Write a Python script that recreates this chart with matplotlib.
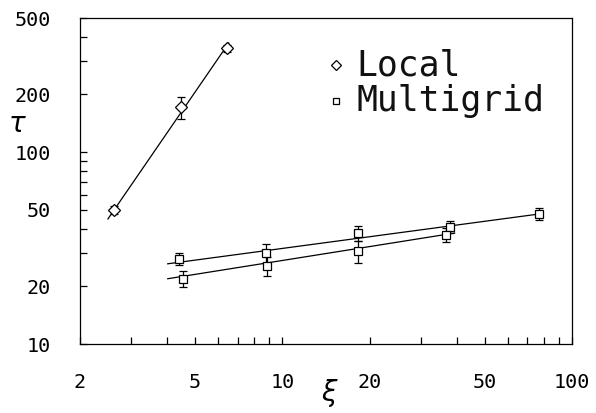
import numpy as np
import matplotlib.pyplot as plt
from matplotlib.ticker import LogLocator, FixedLocator, NullFormatter

# Local update algorithm
xi_local = [2.62, 4.46, 6.43]
tau_local = [50.0, 172.0, 349.0]
err_local = [2.5, 23.0, 15.0]

# Multigrid, upper set
xi_mg1 = [4.40, 8.75, 18.3, 37.8, 76.6]
tau_mg1 = [27.8, 29.9, 37.9, 40.7, 47.6]
err_mg1 = [2.0, 3.5, 3.5, 3.0, 3.5]

# Multigrid, lower set
xi_mg2 = [4.53, 8.83, 18.3, 36.6]
tau_mg2 = [21.9, 25.5, 30.5, 37.1]
err_mg2 = [2.0, 3.0, 4.0, 3.0]

# fitted lines (end points in xi, tau)
fit_local = ([2.50, 6.53], [44.9, 371.0])
fit_mg1 = ([4.02, 76.6], [26.2, 47.6])
fit_mg2 = ([4.02, 39.3], [21.9, 37.9])

xticks = [2, 5, 10, 20, 50, 100]
yticks = [10, 20, 50, 100, 200, 500]

mono = 'DejaVu Sans Mono'

fig = plt.figure(figsize=(5.96, 4.13), dpi=100)
ax = fig.add_axes([0.134, 0.167, 0.826, 0.789])
ax.set_xscale('log')
ax.set_yscale('log')

for xs, ys in (fit_local, fit_mg1, fit_mg2):
    ax.plot(xs, ys, color='black', lw=0.9)

ax.errorbar(xi_local, tau_local, yerr=err_local, fmt='D', ms=6, mfc='white',
            mec='black', mew=0.9, ecolor='black', elinewidth=0.9, capsize=3, zorder=3)
ax.errorbar(xi_mg1, tau_mg1, yerr=err_mg1, fmt='s', ms=6, mfc='white',
            mec='black', mew=0.9, ecolor='black', elinewidth=0.9, capsize=3, zorder=3)
ax.errorbar(xi_mg2, tau_mg2, yerr=err_mg2, fmt='s', ms=6, mfc='white',
            mec='black', mew=0.9, ecolor='black', elinewidth=0.9, capsize=3, zorder=3)

ax.set_xlim(2, 100)
ax.set_ylim(10, 500)

ax.xaxis.set_major_locator(FixedLocator(xticks))
ax.yaxis.set_major_locator(FixedLocator(yticks))
ax.xaxis.set_minor_locator(LogLocator(base=10, subs=np.arange(2, 10)))
ax.yaxis.set_minor_locator(LogLocator(base=10, subs=np.arange(2, 10)))
ax.xaxis.set_minor_formatter(NullFormatter())
ax.yaxis.set_minor_formatter(NullFormatter())
ax.set_xticklabels([str(t) for t in xticks], fontfamily=mono, fontsize=14.5)
ax.set_yticklabels([str(t) for t in yticks], fontfamily=mono, fontsize=14.5)

ax.tick_params(which='both', direction='in', length=5, width=0.9,
               top=False, right=False)
ax.tick_params(axis='x', which='major', pad=21)
ax.tick_params(axis='y', which='major', pad=21)

for s in ax.spines.values():
    s.set_linewidth(0.9)

# legend drawn as markers + monospace text
ax.plot([0.521], [0.855], 'D', ms=5, mfc='white', mec='black', mew=0.9,
        transform=ax.transAxes)
ax.plot([0.521], [0.745], 's', ms=5, mfc='white', mec='black', mew=0.9,
        transform=ax.transAxes)
ax.text(0.562, 0.855, 'Local', transform=ax.transAxes, fontfamily=mono,
        fontsize=25, va='center', ha='left', color='#111111')
ax.text(0.562, 0.745, 'Multigrid', transform=ax.transAxes, fontfamily=mono,
        fontsize=25, va='center', ha='left', color='#111111')

fig.text(0.030, 0.700, r'$\tau$', fontsize=20, ha='center', va='center')
fig.text(0.553, 0.048, r'$\xi$', fontsize=20, ha='center', va='center')

fig.savefig('out.png', dpi=100)
